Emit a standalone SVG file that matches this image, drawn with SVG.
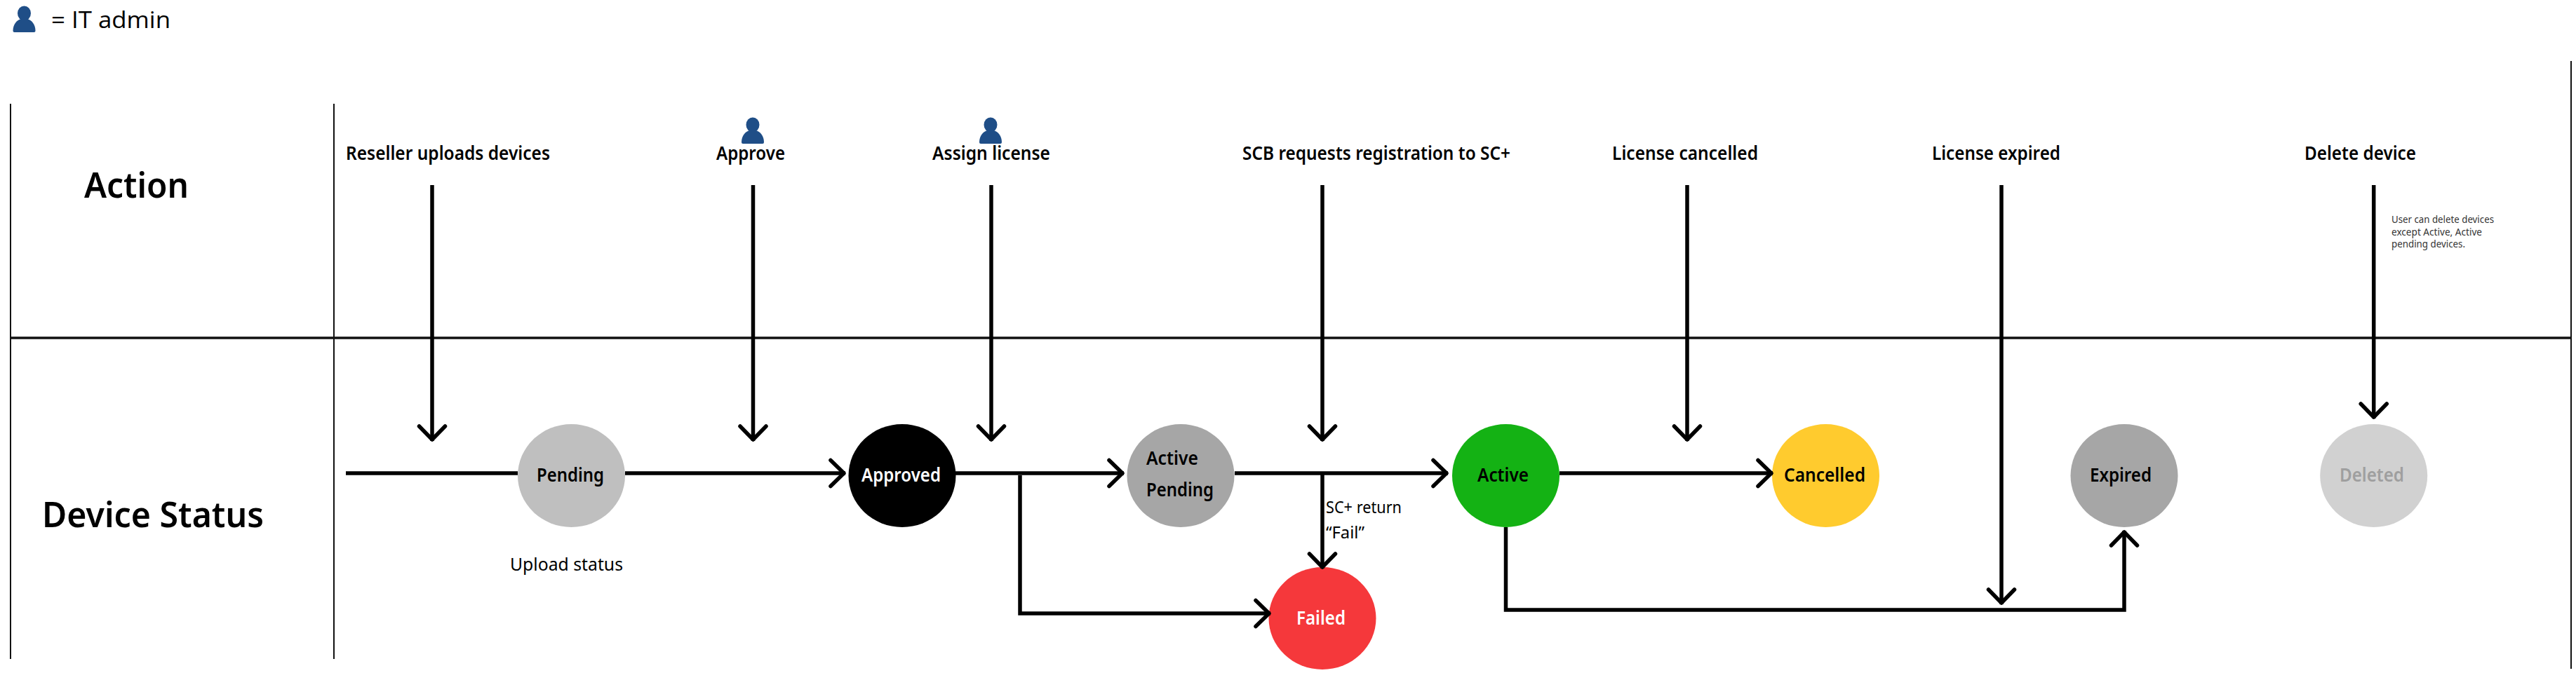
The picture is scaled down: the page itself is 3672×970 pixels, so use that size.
<svg xmlns="http://www.w3.org/2000/svg" xmlns:xlink="http://www.w3.org/1999/xlink" width="3672" height="970" viewBox="0 0 3672 970">
  <style>
    text { font-family: "Noto Sans", "Open Sans", "Liberation Sans", sans-serif; fill: #000; }
    .head { font-size: 51px; font-weight: 600; }
    .act { font-size: 27px; font-weight: 600; }
    .st { font-size: 27px; font-weight: 600; }
    .sub { font-size: 26px; font-weight: 400; }
    .lbl { font-size: 24px; font-weight: 400; }
    .note { font-size: 15px; font-weight: 400; fill: #333; }
    .legend { font-size: 33px; font-family: "Open Sans", "Noto Sans", sans-serif; }
    .grid { stroke: #111; fill: none; }
    .edge { stroke: #000; stroke-width: 5.5; fill: none; stroke-linejoin: miter; }
    .arrow { marker-end: url(#ah); }
  </style>
  <defs>
    <marker id="ah" markerUnits="userSpaceOnUse" viewBox="-26 -24 30 48" refX="0" refY="0" markerWidth="30" markerHeight="48" orient="auto" overflow="visible">
      <path d="M-21,-18.5 L-2,0 L-21,18.5" fill="none" stroke="#000" stroke-width="5.5" stroke-linecap="round" stroke-linejoin="round"/>
    </marker>
    <symbol id="person" viewBox="0 0 32 38">
      <ellipse cx="16" cy="11" rx="9.5" ry="10.5" fill="#1f4e87"/>
      <path d="M0,36 C0,26 6,21 11,19 L21,19 C26,21 32,26 32,36 Q32,38 30,38 L2,38 Q0,38 0,36Z" fill="#1f4e87"/>
    </symbol>
  </defs>
  <rect width="3672" height="970" fill="#fff"/>

  <g id="legend">
    <use href="#person" x="18" y="8" width="33" height="38"/>
    <text class="legend" x="73" y="40" textLength="170" lengthAdjust="spacingAndGlyphs">= IT admin</text>
  </g>

  <g id="grid">
    <line class="grid" x1="15" y1="148" x2="15" y2="940" stroke-width="2"/>
    <line class="grid" x1="476" y1="148" x2="476" y2="940" stroke-width="2"/>
    <line class="grid" x1="3665" y1="87" x2="3665" y2="954" stroke-width="2"/>
    <line class="grid" x1="14" y1="482" x2="3666" y2="482" stroke-width="3.5"/>
    <text class="head" x="120" y="282" textLength="149" lengthAdjust="spacingAndGlyphs">Action</text>
    <text class="head" x="60" y="752" textLength="316" lengthAdjust="spacingAndGlyphs">Device Status</text>
  </g>

  <g id="action-reseller"><text class="act" x="493" y="228" textLength="291" lengthAdjust="spacingAndGlyphs">Reseller uploads devices</text></g>
  <g id="action-approve">
    <use href="#person" x="1057" y="167" width="32" height="38"/>
    <text class="act" x="1021" y="228" textLength="98" lengthAdjust="spacingAndGlyphs">Approve</text>
  </g>
  <g id="action-assign">
    <use href="#person" x="1396" y="167" width="32" height="38"/>
    <text class="act" x="1329" y="228" textLength="168" lengthAdjust="spacingAndGlyphs">Assign license</text>
  </g>
  <g id="action-scb"><text class="act" x="1771" y="228" textLength="382" lengthAdjust="spacingAndGlyphs">SCB requests registration to SC+</text></g>
  <g id="action-cancelled"><text class="act" x="2298" y="228" textLength="208" lengthAdjust="spacingAndGlyphs">License cancelled</text></g>
  <g id="action-expired"><text class="act" x="2754" y="228" textLength="183" lengthAdjust="spacingAndGlyphs">License expired</text></g>
  <g id="action-delete">
    <text class="act" x="3285" y="228" textLength="159" lengthAdjust="spacingAndGlyphs">Delete device</text>
    <text class="note" x="3409" y="318" textLength="146" lengthAdjust="spacingAndGlyphs">User can delete devices</text>
    <text class="note" x="3409" y="336" textLength="129" lengthAdjust="spacingAndGlyphs">except Active, Active</text>
    <text class="note" x="3409" y="353" textLength="105" lengthAdjust="spacingAndGlyphs">pending devices.</text>
  </g>

  <g id="node-pending">
    <ellipse cx="814.5" cy="678.5" rx="76.5" ry="73.5" fill="#bfbfbf"/>
    <text class="st" x="765" y="687" textLength="96" lengthAdjust="spacingAndGlyphs">Pending</text>
    <text class="sub" x="727" y="814" textLength="161" lengthAdjust="spacingAndGlyphs">Upload status</text>
  </g>
  <g id="node-approved">
    <ellipse cx="1286" cy="678.5" rx="76.5" ry="73.5" fill="#000"/>
    <text class="st" x="1228" y="687" textLength="113" lengthAdjust="spacingAndGlyphs" style="fill:#fff">Approved</text>
  </g>
  <g id="node-active-pending">
    <ellipse cx="1683" cy="678.5" rx="76.5" ry="73.5" fill="#a6a6a6"/>
    <text class="st" x="1634" y="663" textLength="74" lengthAdjust="spacingAndGlyphs">Active</text>
    <text class="st" x="1634" y="708" textLength="96" lengthAdjust="spacingAndGlyphs">Pending</text>
  </g>
  <g id="node-active">
    <ellipse cx="2146.5" cy="678.5" rx="76.5" ry="73.5" fill="#14b214"/>
    <text class="st" x="2106" y="687" textLength="73" lengthAdjust="spacingAndGlyphs">Active</text>
  </g>
  <g id="node-cancelled">
    <ellipse cx="2602.5" cy="678.5" rx="76.5" ry="73.5" fill="#ffcb2e"/>
    <text class="st" x="2543" y="687" textLength="116" lengthAdjust="spacingAndGlyphs">Cancelled</text>
  </g>
  <g id="node-expired">
    <ellipse cx="3028" cy="678.5" rx="76.5" ry="73.5" fill="#a6a6a6"/>
    <text class="st" x="2979" y="687" textLength="88" lengthAdjust="spacingAndGlyphs">Expired</text>
  </g>
  <g id="node-deleted">
    <ellipse cx="3383.7" cy="678.5" rx="76.5" ry="73.5" fill="#d1d1d1"/>
    <text class="st" x="3335" y="687" textLength="92" lengthAdjust="spacingAndGlyphs" style="fill:#9f9f9f">Deleted</text>
  </g>
  <g id="node-failed">
    <ellipse cx="1885" cy="882" rx="76.5" ry="73" fill="#f5383b"/>
    <text class="st" x="1848" y="891" textLength="70" lengthAdjust="spacingAndGlyphs" style="fill:#fff">Failed</text>
  </g>

  <g id="connectors">
    <line class="edge arrow" x1="616" y1="264" x2="616" y2="629"/>
    <line class="edge arrow" x1="1073.5" y1="264" x2="1073.5" y2="629"/>
    <line class="edge arrow" x1="1413" y1="264" x2="1413" y2="629"/>
    <line class="edge arrow" x1="1885" y1="264" x2="1885" y2="629"/>
    <line class="edge arrow" x1="2405" y1="264" x2="2405" y2="629"/>
    <line class="edge arrow" x1="2853" y1="264" x2="2853" y2="862"/>
    <line class="edge arrow" x1="3383.7" y1="264" x2="3383.7" y2="597"/>
    <line class="edge" x1="493" y1="675" x2="738" y2="675"/>
    <line class="edge arrow" x1="891" y1="675" x2="1205" y2="675"/>
    <line class="edge arrow" x1="1362" y1="675" x2="1602" y2="675"/>
    <line class="edge arrow" x1="1760" y1="675" x2="2064" y2="675"/>
    <line class="edge arrow" x1="2223" y1="675" x2="2527" y2="675"/>
    <path class="edge arrow" d="M1454,678 V875 H1811"/>
    <line class="edge arrow" x1="1885" y1="675" x2="1885" y2="811"/>
    <path class="edge arrow" d="M2146.5,752 V870 H3028 V757"/>
    <text class="lbl" x="1890" y="732" textLength="108" lengthAdjust="spacingAndGlyphs">SC+ return</text>
    <text class="lbl" x="1890" y="768" textLength="55" lengthAdjust="spacingAndGlyphs">“Fail”</text>
  </g>
</svg>
